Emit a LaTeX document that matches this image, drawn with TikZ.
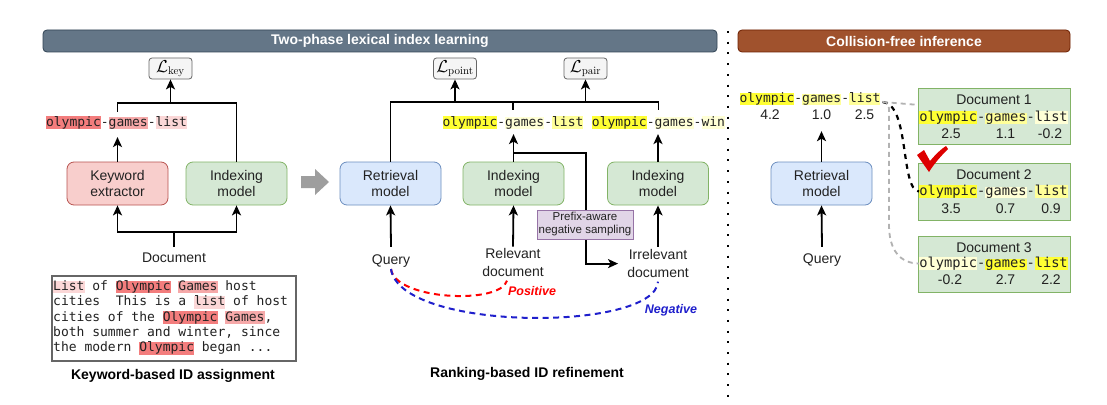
\documentclass[tikz,border=0pt]{standalone}
\usepackage[no-math]{fontspec}
\setmainfont{Liberation Sans}
\newfontfamily\monof{DejaVu Sans Mono}
\usetikzlibrary{arrows.meta,calc}
\definecolor{hdrL}{HTML}{647687}\definecolor{hdrLd}{HTML}{314354}
\definecolor{hdrR}{HTML}{A0522D}\definecolor{hdrRd}{HTML}{6D1F00}
\definecolor{redF}{HTML}{F8CECC}\definecolor{redD}{HTML}{B85450}
\definecolor{grnF}{HTML}{D5E8D4}\definecolor{grnD}{HTML}{82B366}
\definecolor{bluF}{HTML}{DAE8FC}\definecolor{bluD}{HTML}{6C8EBF}
\definecolor{purF}{HTML}{E1D5E7}\definecolor{purD}{HTML}{9673A6}
\definecolor{gryF}{HTML}{F5F5F5}\definecolor{gryD}{HTML}{666666}
\definecolor{pkD}{HTML}{F37D7D}\definecolor{pkM}{HTML}{F6A9A9}\definecolor{pkL}{HTML}{FBD7D7}
\definecolor{ylB}{HTML}{FFFF33}\definecolor{ylM}{HTML}{FFFF99}\definecolor{ylL}{HTML}{FFFFD6}
\definecolor{txt}{HTML}{222222}
\definecolor{posR}{HTML}{FF0000}\definecolor{negB}{HTML}{1F1FCC}
\definecolor{chk}{HTML}{DD0000}
\definecolor{garr}{HTML}{9E9E9E}
\newcommand{\hlx}[2]{{\setlength{\fboxsep}{0pt}\colorbox{#1}{\rule[-2.8pt]{0pt}{11.5pt}#2}}}
\newcommand{\kwid}[3]{\hlx{#1}{olympic}-\hlx{#2}{games}-\hlx{#3}{list}}
\tikzset{
 txtbase/.style={font=\fontsize{14}{16}\selectfont, text=txt},
 model/.style={txtbase, draw, line width=0.8pt, rounded corners=7pt, minimum width=101pt, minimum height=43pt, align=center, inner sep=0pt},
 kwbox/.style={model, fill=redF, draw=redD},
 idxbox/.style={model, fill=grnF, draw=grnD},
 retbox/.style={model, fill=bluF, draw=bluD},
 lossbox/.style={draw=gryD, fill=gryF, line width=0.8pt, rounded corners=3pt, minimum width=43pt, minimum height=21pt, inner sep=0pt, font=\fontsize{16}{18}\selectfont},
 mono/.style={font=\monof\fontsize{13}{15}\selectfont, inner sep=0pt, text=txt},
 monob/.style={font=\monof\fontsize{13.7}{15}\selectfont, inner sep=0pt, text=txt},
 lbl/.style={font=\fontsize{14}{17.5}\selectfont, text=txt, align=center, inner sep=0pt},
 arr/.style={line width=1.8pt, -{Stealth[length=10pt,width=9pt,inset=2.5pt]}},
 conn/.style={line width=1.8pt},
 hdr/.style={font=\bfseries\fontsize{14}{16}\selectfont, text=white, rounded corners=4pt, minimum height=22pt, inner sep=0pt, line width=0.8pt},
 capt/.style={font=\bfseries\fontsize{14}{16}\selectfont, text=black, inner sep=0pt},
 docbox/.style={draw=grnD, fill=grnF, line width=0.8pt, minimum width=152pt, minimum height=56pt, inner sep=0pt},
 numb/.style={txtbase, inner sep=0pt},
 pfxbox/.style={draw=purD, fill=purF, line width=0.8pt, minimum width=96pt, minimum height=29pt, inner sep=0pt, align=center, font=\fontsize{11.5}{13}\selectfont, text=txt},
 posdash/.style={line width=2pt, draw=posR, dash pattern=on 6pt off 4.5pt},
 negdash/.style={line width=2pt, draw=negB, dash pattern=on 6pt off 4.5pt},
}
\begin{document}
\begin{tikzpicture}[x=1pt,y=-1pt]
\useasboundingbox[fill=white] (0,0) rectangle (1107,404);
% headers
\node[hdr, fill=hdrL, draw=hdrLd, minimum width=674pt] (hL) at (380,41) {Two-phase lexical index learning};
\node[hdr, fill=hdrR, draw=hdrRd, minimum width=332pt] (hR) at (904,41) {Collision-free inference};
% separator
\draw[line width=2pt, dash pattern=on 2pt off 8.7pt] (728,31) -- (728,400);

% ---------------- left part
\node[lossbox] (lkey) at (170.5,68.5) {$\mathcal{L}_{\mathrm{key}}$};
\node[mono] (kwt) at (116.5,122.5) {\kwid{pkD}{pkM}{pkL}};
\node[kwbox] (kwe) at (117.5,183.5) {Keyword\\extractor};
\node[idxbox] (ix1) at (236.5,183.5) {Indexing\\model};
\node[lbl, anchor=north] (doc) at (174,253) {Document};
\coordinate (dj) at (174,232);
\coordinate (kj) at (170.5,103);
\draw[conn, shorten <=4pt] (kwt.north -| kwe.north) |- (ix1.north |- kj) -- (ix1.north);
\draw[arr] (kj) -- (lkey.south);
\draw[arr, shorten >=8pt] (kwe.north) -- (kwe.north |- kwt.south);
\draw[conn] ([yshift=6pt]doc.north) -- (dj);
\draw[arr] (dj) -| (kwe.south);
\draw[arr] (dj) -| (ix1.south);

\node[draw=gryD, line width=1.2pt, minimum width=244pt, minimum height=85pt, inner sep=0pt] (tbox) at (174,318.5) {};
\node[mono, anchor=base west] (tl1) at (53,290.5) {\hlx{pkL}{List} of \hlx{pkD}{Olympic} \hlx{pkM}{Games} host};
\node[mono, anchor=base west] (tl2) at (53,305.8) {cities\ \ This is a \hlx{pkL}{list} of host};
\node[mono, anchor=base west] (tl3) at (53,321.1) {cities of the \hlx{pkD}{Olympic} \hlx{pkM}{Games},};
\node[mono, anchor=base west] (tl4) at (53,336.4) {both summer and winter, since};
\node[mono, anchor=base west] (tl5) at (53,351.7) {the modern \hlx{pkD}{Olympic} began ...};
\node[capt] (c1) at (173,376) {Keyword-based ID assignment};

% gray block arrow
\fill[garr] (301,176) -- (315,176) -- (315,169) -- (329,182) -- (315,195) -- (315,188) -- (301,188) -- cycle;

% ---------------- middle part
\node[lossbox] (lpt) at (455,68.5) {$\mathcal{L}_{\mathrm{point}}$};
\node[lossbox] (lpr) at (585.5,68.5) {$\mathcal{L}_{\mathrm{pair}}$};
\node[retbox] (rt1) at (390.5,183.5) {Retrieval\\model};
\node[idxbox] (ix2) at (513.5,183.5) {Indexing\\model};
\node[idxbox] (ix3) at (658,183.5) {Indexing\\model};
\node[mono] (ta) at (513,122.5) {\kwid{ylB}{ylL}{ylM}};
\node[mono] (tw) at (658.5,122.5) {\hlx{ylB}{olympic}-\hlx{ylL}{games}-\hlx{ylL}{win}};
\coordinate (mj1) at (455,102);
\coordinate (mj2) at (585.5,102);
\draw[conn, shorten >=6pt] (rt1.north) |- (tw.north |- mj1) -- (tw.north);
\draw[conn, shorten >=6pt] (ta.north |- mj1) -- (ta.north);
\draw[arr] (mj1) -- (lpt.south);
\draw[arr] (mj2) -- (lpr.south);
\draw[arr, shorten >=5pt] (ix2.north) -- (ix2.north |- ta.south);
\draw[arr, shorten >=5pt] (ix3.north) -- (ix3.north |- tw.south);

\node[lbl] (q1) at (391,261.5) {Query};
\node[lbl] (rel) at (513,262.6) {Relevant\\document};
\node[lbl] (irr) at (658,263.6) {Irrelevant\\document};
\draw[arr] ([yshift=8pt]q1.north) -- (rt1.south);
\draw[arr] ([yshift=2pt]rel.north) -- (ix2.south);
\draw[arr] ([yshift=3pt]irr.north) -- (ix3.south);

\coordinate (bk) at (586,153);
\draw[arr, shorten >=9pt] (ix2.north |- bk) -- (bk) |- (irr.west);
\node[pfxbox] (pfx) at (585,224.5) {Prefix-aware\\negative sampling};

\draw[posdash] ([yshift=-1pt]q1.south) .. controls (395,300) and (500,305) .. ($(rel.south)+(-6,4)$);
\draw[negdash] ([yshift=-1pt]q1.south) .. controls (400,332) and (655,332) .. ($(irr.south)+(0,4)$);
\node[font=\bfseries\itshape\fontsize{12.5}{14}\selectfont, text=posR, inner sep=0pt] (pos) at (532,291) {Positive};
\node[font=\bfseries\itshape\fontsize{12.5}{14}\selectfont, text=negB, inner sep=0pt] (neg) at (671,310) {Negative};
\node[capt] (c2) at (527,374) {Ranking-based ID refinement};

% ---------------- right part
\node[mono] (rt) at (810,99) {\kwid{ylB}{ylM}{ylM}};
\node[numb] (n1) at (770,115) {4.2};
\node[numb] (n2) at (821.5,115) {1.0};
\node[numb] (n3) at (864.5,115) {2.5};
\node[retbox] (rt2) at (821.5,183.5) {Retrieval\\model};
\draw[arr, shorten >=11pt] (rt2.north) -- (rt2.north |- n2.south);
\node[lbl] (q2) at (822,260.5) {Query};
\draw[arr] ([yshift=7pt]q2.north) -- (rt2.south);

\node[docbox] (d1) at (994,116) {};
\node[txtbase, inner sep=0pt] (d1h) at (994,99.5) {Document 1};
\node[monob] (d1t) at (993.5,117.5) {\kwid{ylB}{ylM}{ylL}};
\node[numb] at (951,134) {2.5};
\node[numb] at (1005.5,134) {1.1};
\node[numb] at (1050,134) {-0.2};

\node[docbox, minimum height=57pt] (d2) at (994,191.5) {};
\node[txtbase, inner sep=0pt] (d2h) at (994,175) {Document 2};
\node[monob] (d2t) at (993.5,191.5) {\kwid{ylB}{ylL}{ylM}};
\node[numb] at (951,209) {3.5};
\node[numb] at (1005.5,209) {0.7};
\node[numb] at (1051,209) {0.9};

\node[docbox] (d3) at (994,264) {};
\node[txtbase, inner sep=0pt] (d3h) at (994,247.5) {Document 3};
\node[monob] (d3t) at (993.5,263.5) {\kwid{ylL}{ylB}{ylB}};
\node[numb] at (950,280) {-0.2};
\node[numb] at (1005.5,280) {2.7};
\node[numb] at (1051,280) {2.2};

\coordinate (rs) at ($(rt.east)+(2,3)$);
\draw[line width=1.8pt, draw=gray!60, dash pattern=on 5pt off 4pt] (rs) -- ($(d1.north west)+(-3,17)$);
\draw[line width=2.2pt, draw=black, dash pattern=on 5pt off 5pt] (rs) .. controls (910,104) and (900,190) .. (d2t.west);
\draw[line width=1.8pt, draw=gray!60, dash pattern=on 5pt off 4pt] (rs) .. controls (889,102) and (889,104) .. (889,115) -- (889,225) .. controls (889,250) and (900,263.5) .. (d3t.west);

% check mark
\fill[chk] (917,155) -- (924,150) -- (930,161) .. controls (936,154) and (941,149) .. (946,146) -- (948,149) .. controls (940,157) and (934,164) .. (929,172) -- cycle;
\end{tikzpicture}
\end{document}
